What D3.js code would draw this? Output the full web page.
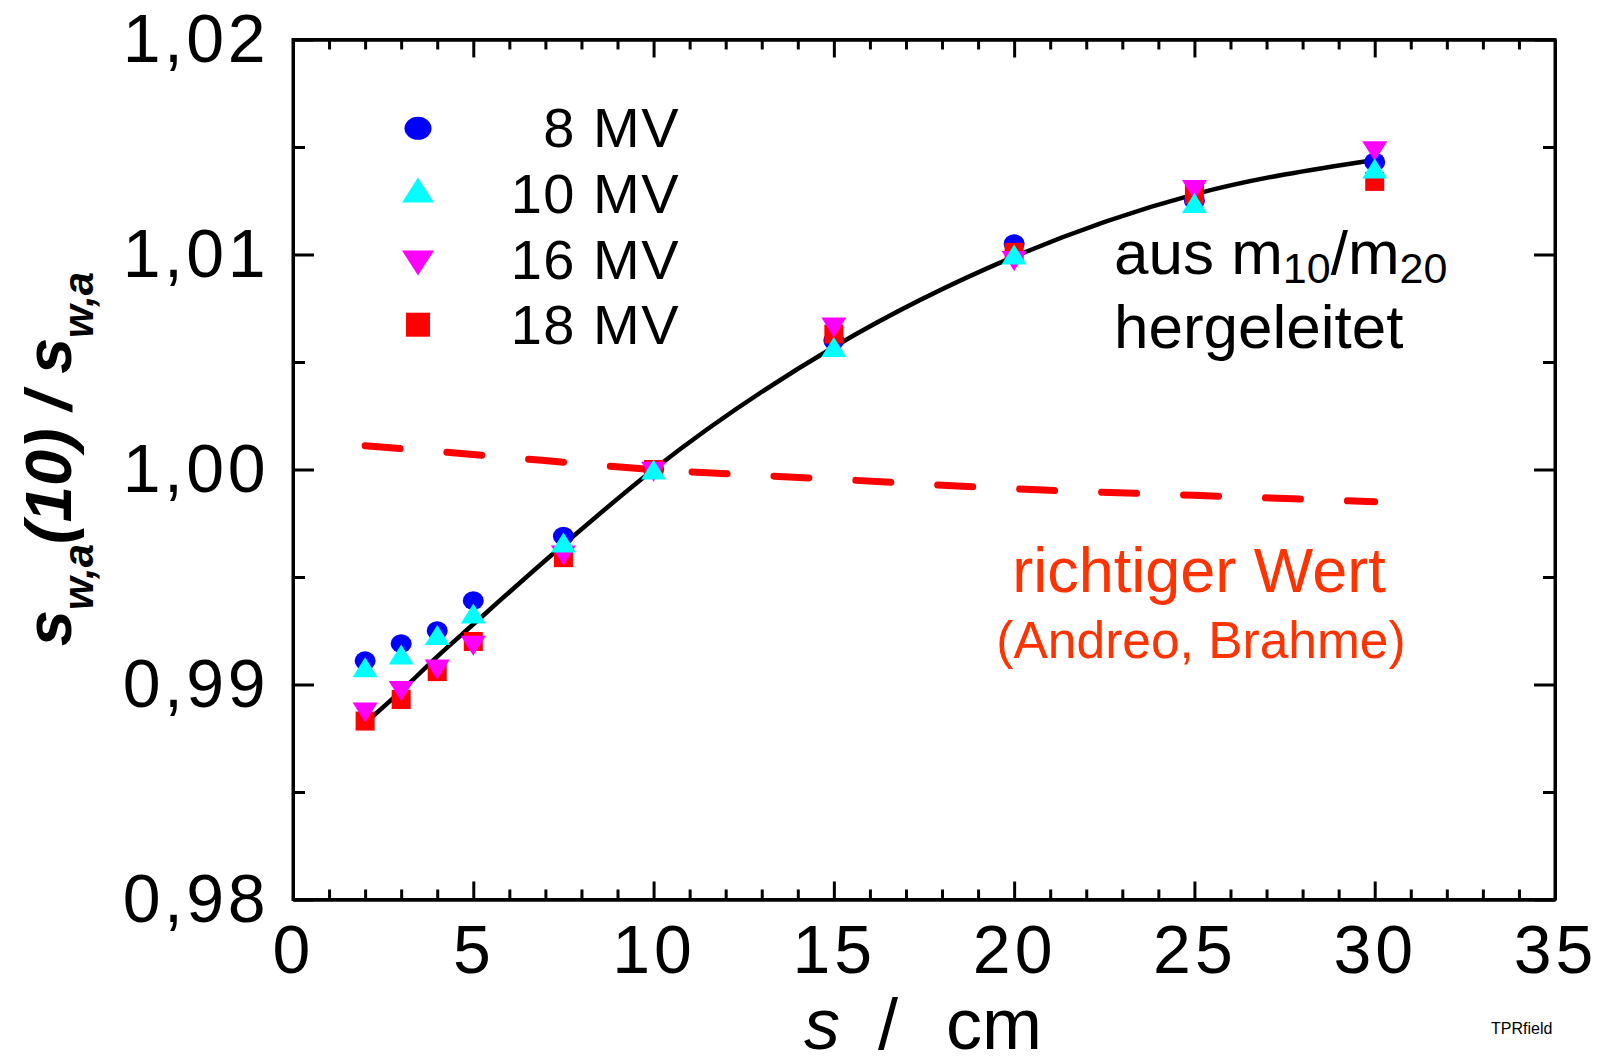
<!DOCTYPE html>
<html>
<head>
<meta charset="utf-8">
<script src="https://cdn.jsdelivr.net/npm/d3@7"></script>
<style>
  html, body { margin: 0; padding: 0; background: #fff; }
  svg { display: block; font-family: "Liberation Sans", Arial, sans-serif; }
</style>
</head>
<body>
<svg id="chart" width="1600" height="1064"></svg>
<script>
// ---------- data ----------
const depth = [2, 3, 4, 5, 7.5, 10, 15, 20, 25, 30];
const mv8  = [0.9911, 0.9919, 0.9925, 0.9939, 0.9969, 1.0000, 1.0060, 1.0105, 1.0125, 1.0143];
const mv10 = [0.9908, 0.9914, 0.9923, 0.9933, 0.9966, 1.0000, 1.0057, 1.0100, 1.0124, 1.0140];
const mv16 = [0.9887, 0.9897, 0.9907, 0.9918, 0.9960, 0.9999, 1.0066, 1.0097, 1.0130, 1.0148];
const mv18 = [0.9883, 0.9893, 0.9906, 0.9920, 0.9959, 1.0000, 1.0063, 1.0101, 1.0128, 1.0134];
const fitDepth = [2, 3, 4, 5, 7.5, 10, 15, 20, 25, 30];
const fitVal   = [0.9882, 0.9897, 0.9913, 0.9928, 0.9965, 1.0000, 1.0057, 1.0099, 1.0128, 1.0144];
const refDepth = [2, 5, 10, 15, 20, 25, 30];
const refVal   = [1.0011, 1.0007, 1.0000, 0.99955, 0.9991, 0.9988, 0.9985];
const seriesNames = ["8 MV", "10 MV", "16 MV", "18 MV"];
const xMajorTicks = [0, 5, 10, 15, 20, 25, 30, 35];
const yMajorTicks = [0.98, 0.99, 1.00, 1.01, 1.02];
const yMinorTicks = [0.985, 0.995, 1.005, 1.015];

// ---------- setup ----------
const svg = d3.select("#chart");
const L = 293, R = 1555, T = 39.5, B = 899.5;
const x = d3.scaleLinear().domain([0, 35]).range([L, R]);
const y = d3.scaleLinear().domain([0.98, 1.02]).range([B, T]);
const font = "'Liberation Sans', Arial, sans-serif";

// ---------- axes / frame ----------
const xMinor = d3.range(0, 36, 1).filter(v => v % 5 !== 0);
function styleAxis(g) {
  g.selectAll("path.domain").attr("stroke", "#000").attr("stroke-width", 3);
  g.selectAll(".tick line").attr("stroke", "#000").attr("stroke-width", 3);
}
// bottom
const gB = svg.append("g").attr("transform", `translate(0,${B})`)
  .call(d3.axisBottom(x).tickValues(xMajorTicks).tickSizeInner(-18).tickSizeOuter(0).tickFormat(d => d));
styleAxis(gB);
gB.selectAll("text").attr("dy", null).attr("y", 73.5)
  .attr("font-size", 68).attr("font-family", font).attr("fill", "#000")
  .attr("letter-spacing", 4);
svg.append("g").attr("transform", `translate(0,${B})`)
  .call(d3.axisBottom(x).tickValues(xMinor).tickSizeInner(-10).tickSizeOuter(0).tickFormat(""))
  .call(styleAxis);
// top
svg.append("g").attr("transform", `translate(0,${T})`)
  .call(d3.axisTop(x).tickValues(xMajorTicks).tickSizeInner(-18).tickSizeOuter(0).tickFormat(""))
  .call(styleAxis);
svg.append("g").attr("transform", `translate(0,${T})`)
  .call(d3.axisTop(x).tickValues(xMinor).tickSizeInner(-10).tickSizeOuter(0).tickFormat(""))
  .call(styleAxis);
// left
const gL = svg.append("g").attr("transform", `translate(${L},0)`)
  .call(d3.axisLeft(y).tickValues(yMajorTicks).tickSizeInner(-21).tickSizeOuter(0)
    .tickFormat(d => d3.format(".2f")(d).replace(".", ",")));
styleAxis(gL);
gL.selectAll("text").attr("x", -24).attr("dy", "0.33em")
  .attr("font-size", 68).attr("font-family", font).attr("fill", "#000")
  .attr("letter-spacing", 3.5);
svg.append("g").attr("transform", `translate(${L},0)`)
  .call(d3.axisLeft(y).tickValues(yMinorTicks).tickSizeInner(-12).tickSizeOuter(0).tickFormat(""))
  .call(styleAxis);
// right
svg.append("g").attr("transform", `translate(${R},0)`)
  .call(d3.axisRight(y).tickValues(yMajorTicks).tickSizeInner(-21).tickSizeOuter(0).tickFormat(""))
  .call(styleAxis);
svg.append("g").attr("transform", `translate(${R},0)`)
  .call(d3.axisRight(y).tickValues(yMinorTicks).tickSizeInner(-12).tickSizeOuter(0).tickFormat(""))
  .call(styleAxis);
svg.append("rect").attr("x", L).attr("y", T).attr("width", R - L).attr("height", B - T)
  .attr("fill", "none").attr("stroke", "#000").attr("stroke-width", 3);

// ---------- reference dashed line ----------
const refData = refDepth.map((d, i) => [d, refVal[i]]);
svg.append("path").datum(refData)
  .attr("d", d3.line().x(d => x(d[0])).y(d => y(d[1])).curve(d3.curveMonotoneX))
  .attr("fill", "none").attr("stroke", "#ff0000").attr("stroke-width", 7)
  .attr("stroke-linecap", "round").attr("stroke-dasharray", "35 47");

// ---------- fit line ----------
const fitData = fitDepth.map((d, i) => [d, fitVal[i]]);
svg.append("path").datum(fitData)
  .attr("d", d3.line().x(d => x(d[0])).y(d => y(d[1])).curve(d3.curveMonotoneX))
  .attr("fill", "none").attr("stroke", "#000").attr("stroke-width", 4.5);

// ---------- markers ----------
function triUp(w, h) { return `M0,${-h/2}L${w/2},${h/2}L${-w/2},${h/2}Z`; }
function triDown(w, h) { return `M0,${h/2}L${w/2},${-h/2}L${-w/2},${-h/2}Z`; }
function sq(s) { return `M${-s/2},${-s/2}h${s}v${s}h${-s}Z`; }

const mk = [
  { vals: mv8,  color: "#0000ff", draw: (g) => g.append("ellipse").attr("rx", 10.5).attr("ry", 9.5) },
  { vals: mv18, color: "#ff0000", draw: (g) => g.append("path").attr("d", sq(19)) },
  { vals: mv16, color: "#ff00ff", draw: (g) => g.append("path").attr("d", triDown(25, 20)) },
  { vals: mv10, color: "#00ffff", draw: (g) => g.append("path").attr("d", triUp(25, 20)) }
];
mk.forEach(s => {
  const gs = svg.append("g").attr("fill", s.color);
  depth.forEach((d, i) => {
    const g = gs.append("g").attr("transform", `translate(${x(d)},${y(s.vals[i])})`);
    s.draw(g);
  });
});

// ---------- legend ----------
const legendY = [128.3, 190, 263, 324.7];
const legendBase = [146.7, 213.3, 278.5, 343.5];
const lg = svg.append("g");
lg.append("ellipse").attr("cx", 418).attr("cy", legendY[0]).attr("rx", 13.5).attr("ry", 11.5).attr("fill", "#0000ff");
lg.append("path").attr("transform", `translate(418,${legendY[1]})`).attr("d", triUp(32, 25)).attr("fill", "#00ffff");
lg.append("path").attr("transform", `translate(418,${legendY[2]})`).attr("d", triDown(32, 25)).attr("fill", "#ff00ff");
lg.append("path").attr("transform", `translate(418,${legendY[3]})`).attr("d", sq(24)).attr("fill", "#ff0000");
seriesNames.forEach((n, i) => {
  lg.append("text").attr("x", 680).attr("y", legendBase[i]).attr("text-anchor", "end")
    .attr("font-size", 56).attr("font-family", font).attr("fill", "#000")
    .attr("letter-spacing", 1.5).text(n);
});

// ---------- annotations ----------
const a1 = svg.append("text").attr("x", 1114).attr("y", 274).attr("font-size", 62)
  .attr("font-family", font).attr("fill", "#000");
a1.append("tspan").text("aus m");
a1.append("tspan").attr("font-size", 43).attr("dy", 9).text("10");
a1.append("tspan").attr("dy", -9).text("/m");
a1.append("tspan").attr("font-size", 43).attr("dy", 9).text("20");
svg.append("text").attr("x", 1114).attr("y", 348).attr("font-size", 62)
  .attr("font-family", font).attr("fill", "#000").text("hergeleitet");

svg.append("text").attr("x", 1199).attr("y", 591.5).attr("text-anchor", "middle")
  .attr("font-size", 63).attr("font-family", font).attr("fill", "#ff3300").text("richtiger Wert");
svg.append("text").attr("x", 1201).attr("y", 658).attr("text-anchor", "middle")
  .attr("font-size", 51.5).attr("font-family", font).attr("fill", "#ff3300").text("(Andreo, Brahme)");

svg.append("text").attr("x", 1491).attr("y", 1034).attr("font-size", 16)
  .attr("font-family", font).attr("fill", "#000").text("TPRfield");

// ---------- axis titles ----------
const xt = svg.append("text").attr("y", 1049).attr("font-size", 72)
  .attr("font-family", font).attr("fill", "#000");
xt.append("tspan").attr("x", 804).attr("font-style", "italic").text("s");
xt.append("tspan").attr("x", 878).text("/");
xt.append("tspan").attr("x", 946).text("cm");

const yt = svg.append("text").attr("transform", "translate(71,459) rotate(-90)")
  .attr("text-anchor", "middle").attr("font-size", 65).attr("font-weight", "bold")
  .attr("font-style", "italic").attr("font-family", font).attr("fill", "#000");
yt.append("tspan").text("s");
yt.append("tspan").attr("font-size", 42).attr("dy", 22).text("w,a");
yt.append("tspan").attr("dy", -22).text("(10) / s");
yt.append("tspan").attr("font-size", 42).attr("dy", 22).text("w,a");
</script>
</body>
</html>
